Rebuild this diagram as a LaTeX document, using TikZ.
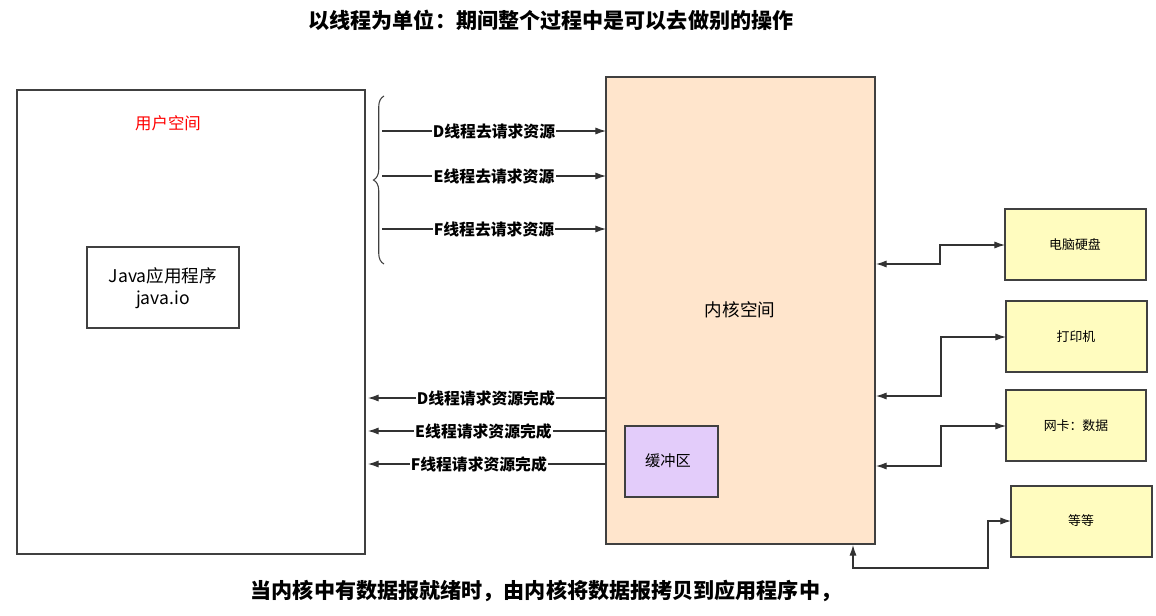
\documentclass[tikz,border=0pt]{standalone}
\usepackage{fontspec}
\setmainfont{Noto Sans CJK SC}
\usepackage{tikz}
\usetikzlibrary{arrows.meta,decorations.pathreplacing}
\definecolor{lav}{HTML}{E3CCFA}

\begin{document}
\begin{tikzpicture}[x=0.03cm,y=-0.03cm,
    every node/.style={inner sep=0pt},
    frame/.style={draw=black!75,line width=0.9pt},
    dev/.style={frame,fill=yellow!25},
    lbl/.style={fill=white,inner sep=1pt,font=\bfseries\fontsize{13.5}{15}\selectfont},
    conn/.style={draw=black!80,line width=0.9pt,-{Latex[length=9pt,width=6pt]}},
    both/.style={conn,{Latex[length=9pt,width=6pt]}-{Latex[length=9pt,width=6pt]}}]
    \useasboundingbox (0,0) rectangle (1156,615);

	\node[font=\bfseries\fontsize{18}{20}\selectfont] (title) at (551,20) {以线程为单位：期间整个过程中是可以去做别的操作};
	\node[font=\bfseries\fontsize{18}{20}\selectfont] (foot) at (546,591) {当内核中有数据报就绪时，由内核将数据报拷贝到应用程序中，};

	\draw[frame] (17,90) rectangle (365,554);
	\node[text=red,font=\fontsize{14}{16}\selectfont] (user) at (168,123) {用户空间};
	\draw[frame] (87,247) rectangle (239,328);
	\node[align=center,font=\fontsize{15}{19}\selectfont] (app) at (163,288) {Java应用程序\\java.io};

	\draw[frame,fill=orange!20] (606,77) rectangle (875,544);
	\node[font=\fontsize{15}{17}\selectfont] (kernel) at (740,310) {内核空间};
	\draw[frame,fill=lav] (625,426) rectangle (718,497);
	\node[font=\fontsize{13}{15}\selectfont] (buf) at (668,461) {缓冲区};

	\draw[dev] (1005,209) rectangle (1146,280);
	\node[font=\fontsize{11}{13}\selectfont] (disk) at (1075,245) {电脑硬盘};
	\draw[dev] (1006,301) rectangle (1147,372);
	\node[font=\fontsize{11}{13}\selectfont] (printer) at (1076,337) {打印机};
	\draw[dev] (1006,390) rectangle (1146,461);
	\node[font=\fontsize{11}{13}\selectfont] (nic) at (1076,426) {网卡：数据};
	\draw[dev] (1011,486) rectangle (1152,557);
	\node[font=\fontsize{11}{13}\selectfont] (etc) at (1081,521) {等等};

	% brace
	\draw[black!75,line width=0.9pt,decorate,decoration={brace,amplitude=9pt}] (384,264) -- (384,96);

	% requests
	\coordinate (d1) at (382,131); \coordinate (d2) at (606,131);
	\coordinate (e1) at (382,176); \coordinate (e2) at (606,176);
	\coordinate (f1) at (382,229); \coordinate (f2) at (606,229);
	\draw[conn] (d1) -- node[lbl] {D线程去请求资源} (d2);
	\draw[conn] (e1) -- node[lbl] {E线程去请求资源} (e2);
	\draw[conn] (f1) -- node[lbl] {F线程去请求资源} (f2);

	% replies
	\coordinate (dd1) at (606,398); \coordinate (dd2) at (368,398);
	\coordinate (ee1) at (606,431); \coordinate (ee2) at (368,431);
	\coordinate (ff1) at (606,464); \coordinate (ff2) at (368,464);
	\draw[conn] (dd1) -- node[lbl,xshift=-1pt] {D线程请求资源完成} (dd2);
	\draw[conn] (ee1) -- node[lbl,xshift=-3pt] {E线程请求资源完成} (ee2);
	\draw[conn] (ff1) -- node[lbl,xshift=-7pt] {F线程请求资源完成} (ff2);

	% devices
	\draw[both] (876,264) -- (940,264) -- (940,245) -- (1005,245);
	\draw[both] (876,396) -- (941,396) -- (941,337) -- (1006,337);
	\draw[both] (876,466) -- (941,466) -- (941,426) -- (1006,426);
	\draw[both] (853,545) -- (853,568) -- (988,568) -- (988,521) -- (1011,521);
\end{tikzpicture}
\end{document}
